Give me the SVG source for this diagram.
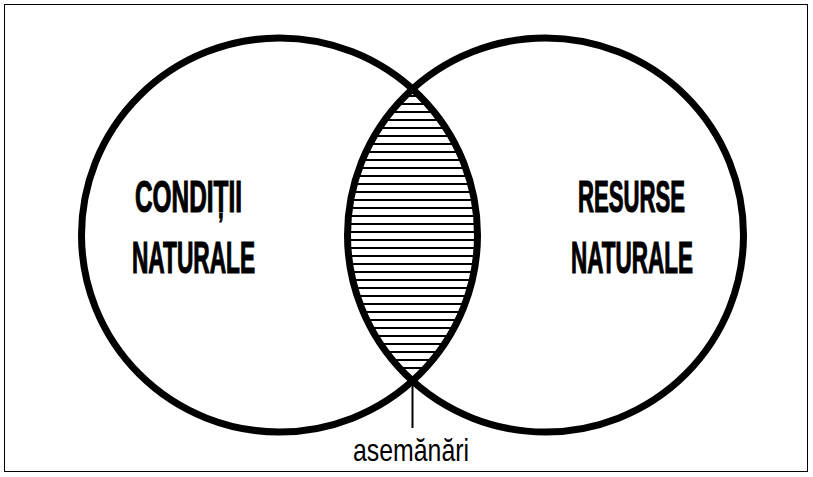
<svg xmlns="http://www.w3.org/2000/svg" width="813" height="477" viewBox="0 0 813 477">
<style>
.ell{fill:none;stroke:#000;stroke-width:7}
.hatch line{stroke:#000;stroke-width:2}
.big{font-family:"Liberation Sans",Arial,sans-serif;font-weight:bold;font-size:44px;fill:#000;stroke:#000;stroke-width:1.2}
.small{font-family:"Liberation Sans",Arial,sans-serif;font-size:32px;fill:#000}
</style>
<defs>
<clipPath id="clipL"><ellipse cx="279.5" cy="235" rx="198" ry="197"/></clipPath>
<clipPath id="clipR"><ellipse cx="545.5" cy="235" rx="198" ry="197"/></clipPath>
</defs>
<rect x="4.5" y="4.5" width="803" height="467" fill="#fff" stroke="#000" stroke-width="1"/>
<g id="intersection" clip-path="url(#clipL)">
<g class="hatch" clip-path="url(#clipR)">
<line x1="340" y1="96" x2="490" y2="96"/><line x1="340" y1="104" x2="490" y2="104"/><line x1="340" y1="112" x2="490" y2="112"/><line x1="340" y1="120" x2="490" y2="120"/><line x1="340" y1="128" x2="490" y2="128"/><line x1="340" y1="136" x2="490" y2="136"/><line x1="340" y1="144" x2="490" y2="144"/><line x1="340" y1="152" x2="490" y2="152"/><line x1="340" y1="160" x2="490" y2="160"/><line x1="340" y1="168" x2="490" y2="168"/><line x1="340" y1="176" x2="490" y2="176"/><line x1="340" y1="184" x2="490" y2="184"/><line x1="340" y1="192" x2="490" y2="192"/><line x1="340" y1="200" x2="490" y2="200"/><line x1="340" y1="208" x2="490" y2="208"/><line x1="340" y1="216" x2="490" y2="216"/><line x1="340" y1="224" x2="490" y2="224"/><line x1="340" y1="232" x2="490" y2="232"/><line x1="340" y1="240" x2="490" y2="240"/><line x1="340" y1="248" x2="490" y2="248"/><line x1="340" y1="256" x2="490" y2="256"/><line x1="340" y1="264" x2="490" y2="264"/><line x1="340" y1="272" x2="490" y2="272"/><line x1="340" y1="280" x2="490" y2="280"/><line x1="340" y1="288" x2="490" y2="288"/><line x1="340" y1="296" x2="490" y2="296"/><line x1="340" y1="304" x2="490" y2="304"/><line x1="340" y1="312" x2="490" y2="312"/><line x1="340" y1="320" x2="490" y2="320"/><line x1="340" y1="328" x2="490" y2="328"/><line x1="340" y1="336" x2="490" y2="336"/><line x1="340" y1="344" x2="490" y2="344"/><line x1="340" y1="352" x2="490" y2="352"/><line x1="340" y1="360" x2="490" y2="360"/><line x1="340" y1="368" x2="490" y2="368"/>
</g>
</g>
<g id="left">
<ellipse class="ell" cx="279.5" cy="235" rx="198" ry="197"/>
<text class="big" x="135" y="212" textLength="107" lengthAdjust="spacingAndGlyphs">CONDIȚII</text>
<text class="big" x="132" y="273" textLength="123" lengthAdjust="spacingAndGlyphs">NATURALE</text>
</g>
<g id="right">
<ellipse class="ell" cx="545.5" cy="235" rx="198" ry="197"/>
<text class="big" x="578" y="212" textLength="107" lengthAdjust="spacingAndGlyphs">RESURSE</text>
<text class="big" x="571" y="273" textLength="122" lengthAdjust="spacingAndGlyphs">NATURALE</text>
</g>
<g id="connectors">
<line x1="412.5" y1="377" x2="412.5" y2="428" stroke="#000" stroke-width="2"/>
</g>
<g id="label">
<text class="small" x="353" y="461" textLength="116" lengthAdjust="spacingAndGlyphs">asemănări</text>
</g>
</svg>
